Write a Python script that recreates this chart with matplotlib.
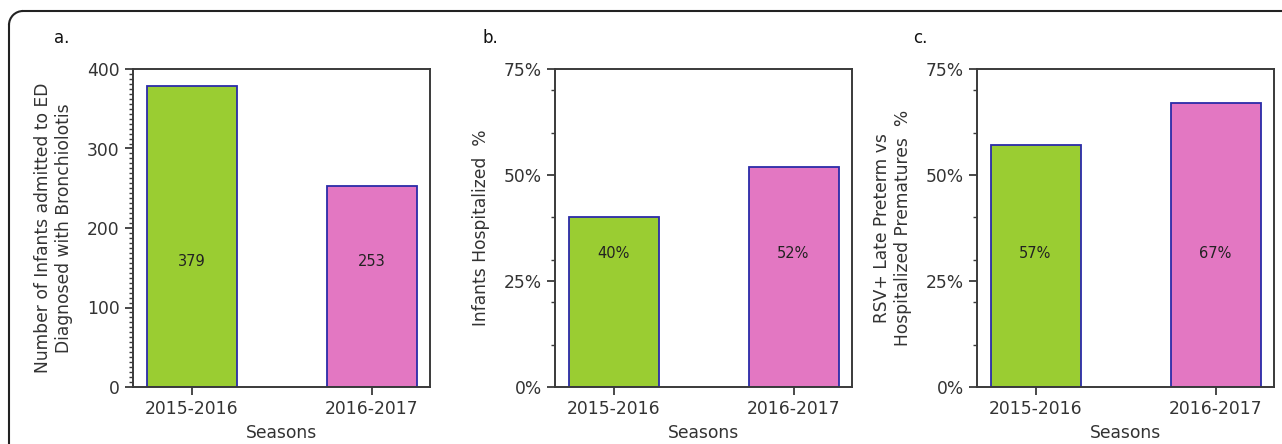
import matplotlib
matplotlib.use('Agg')
import matplotlib.pyplot as plt
from matplotlib.lines import Line2D
from matplotlib.patches import Arc
from matplotlib.transforms import IdentityTransform, blended_transform_factory
from matplotlib.ticker import MultipleLocator, FixedLocator, FuncFormatter

plt.rcParams['font.family'] = ['DejaVu Sans']

# data
seasons = ['2015-2016', '2016-2017']
infants_ed = [379, 253]
hospitalized_pct = [40, 52]
rsv_preterm_pct = [57, 67]

bar_colors = ['#9acd32', '#e377c2']
edge_col = '#2b2ba8'
frame_col = '#3a3a3a'
text_col = '#333333'

W, H = 1282, 444
fig = plt.figure(figsize=(W / 100, H / 100), dpi=100)

# frame around the figure: only the top-left rounded corner is visible
r = 14
x0, ytop = 9, H - 11
ident = IdentityTransform()
fig.add_artist(Line2D([x0, x0], [0, ytop - r], transform=ident, color='#222222', lw=1.5))
fig.add_artist(Line2D([x0 + r, W], [ytop, ytop], transform=ident, color='#222222', lw=1.5))
fig.add_artist(Arc((x0 + r, ytop - r), 2 * r, 2 * r, theta1=90, theta2=180,
                   transform=ident, color='#222222', lw=1.5))

panels = [
    dict(left=133, values=infants_ed, ylim=400, ylabel='Number of Infants admitted to ED\nDiagnosed with Bronchiolotis',
         letter='a.', letter_x=62, label_y=0.395, pct=False),
    dict(left=555, values=hospitalized_pct, ylim=75, ylabel='Infants Hospitalized  %',
         letter='b.', letter_x=490, label_y=0.42, pct=True),
    dict(left=977, values=rsv_preterm_pct, ylim=75, ylabel='RSV+ Late Preterm vs\nHospitalized Prematures  %',
         letter='c.', letter_x=920, label_y=0.42, pct=True),
]

ax_w = 297 / W
ax_b = 1 - 387 / H
ax_h = 318 / H

for p in panels:
    ax = fig.add_axes([p['left'] / W, ax_b, ax_w, ax_h])
    x = list(range(len(seasons)))
    ax.bar(x, p['values'], width=0.5, color=bar_colors, edgecolor=edge_col, linewidth=1.3)
    ax.set_ylim(0, p['ylim'])
    ax.set_xticks(x)
    ax.set_xticklabels(seasons)
    if p['pct']:
        ax.yaxis.set_major_locator(FixedLocator([0, 25, 50, 75]))
        ax.yaxis.set_minor_locator(FixedLocator([10, 20, 30, 40, 60, 70]))
        ax.yaxis.set_major_formatter(FuncFormatter(lambda v, pos: '%d%%' % v))
        labels = ['%d%%' % v for v in p['values']]
    else:
        ax.yaxis.set_major_locator(MultipleLocator(100))
        ax.yaxis.set_minor_locator(MultipleLocator(6.25))
        labels = [str(v) for v in p['values']]
    trans = blended_transform_factory(ax.transData, ax.transAxes)
    for xi, lab in zip(x, labels):
        ax.text(xi, p['label_y'], lab, transform=trans, ha='center', va='center',
                fontsize=10.5, color='#222222')
    ax.set_ylabel(p['ylabel'], fontsize=12.3, color=text_col, labelpad=10)
    ax.set_xlabel('Seasons', fontsize=12.3, color=text_col, labelpad=4)
    ax.tick_params(axis='both', which='major', labelsize=12.3, labelcolor=text_col,
                   color=frame_col, length=6, width=1.3)
    ax.tick_params(axis='y', which='minor', color=frame_col, length=3, width=1)
    for s in ax.spines.values():
        s.set_color(frame_col)
        s.set_linewidth(1.4)
    fig.text(p['letter_x'] / W, 1 - 38 / H, p['letter'], fontsize=12, ha='center', va='center',
             color='#111111')

fig.savefig('out.png', dpi=100)
